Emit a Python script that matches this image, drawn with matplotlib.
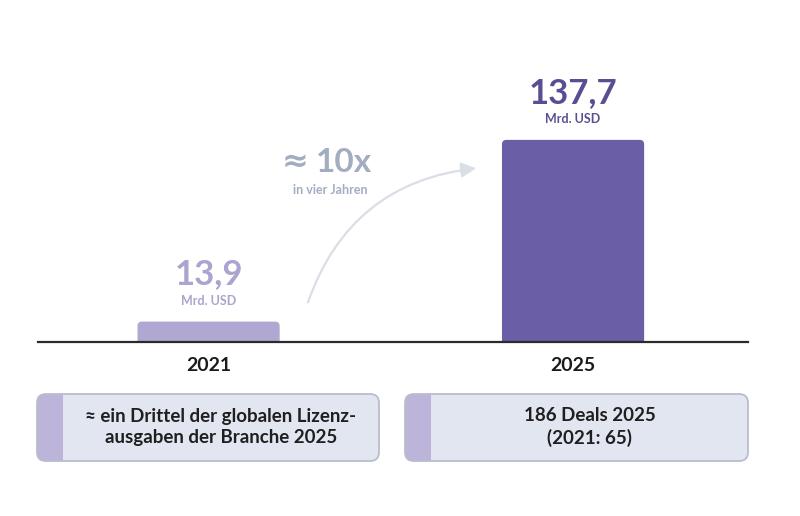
import matplotlib
matplotlib.use("Agg")
import matplotlib.pyplot as plt
from matplotlib.patches import FancyBboxPatch, FancyArrowPatch, Rectangle

plt.rcParams['font.family'] = ['Lato', 'DejaVu Sans']

# data
years = ['2021', '2025']
values = [13.9, 137.7]
value_labels = ['13,9', '137,7']
unit_label = 'Mrd. USD'
growth_sign = '≈'
growth_label = '10x'
growth_sub = 'in vier Jahren'
box_texts = ['≈ ein Drittel der globalen Lizenz-\nausgaben der Branche 2025',
             '186 Deals 2025\n(2021: 65)']

bar_colors = ['#b0a7d3', '#6a5ea6']
label_colors = ['#aca3cf', '#5a4e93']
growth_color = '#a2adc1'
arrow_color = '#d9dee7'
box_fill = '#e2e6f1'
box_edge = '#b8bdcd'
strip_color = '#bdb4d9'

W, H = 800, 516
fig = plt.figure(figsize=(W / 100, H / 100), dpi=100)
fig.patch.set_facecolor('white')


def fx(x):
    return x / W


def fy(y):
    return 1 - y / H


# main axes: baseline at y=342 px, spans x 38..748
ax = fig.add_axes([fx(38), fy(342), fx(748) - fx(38), 342 / H])
x = list(range(len(years)))
ax.set_xlim(-0.468, 1.48)
ax.set_ylim(0, 233)
ax.axis('off')

bars = ax.bar(x, values, width=0.39, color=bar_colors)
# replace by top-rounded bars
for b, c in zip(bars, bar_colors):
    b.set_visible(False)
    x0, w, h = b.get_x(), b.get_width(), b.get_height()
    rb = FancyBboxPatch((x0, -10), w, h + 10,
                        boxstyle='round,pad=0,rounding_size=0.012',
                        mutation_aspect=250, facecolor=c, edgecolor='none',
                        clip_on=True)
    ax.add_patch(rb)

ax.axhline(0, color='#2a2a2a', lw=1.6, clip_on=False)

for xi, v, lab, c in zip(x, values, value_labels, label_colors):
    ax.annotate(lab, (xi, v), xytext=(0, 34), textcoords='offset points',
                ha='center', va='center', fontsize=25, fontweight='bold',
                color=c)
    ax.annotate(unit_label, (xi, v), xytext=(0, 15), textcoords='offset points',
                ha='center', va='center', fontsize=9, fontweight='bold',
                color=c)
    ax.annotate(years[xi], (xi, 0), xytext=(0, -17), textcoords='offset points',
                ha='center', va='center', fontsize=14, fontweight='bold',
                color='#1b1b1b')

# growth annotation
fig.text(fx(295), fy(162), growth_sign, ha='center', va='center',
         fontsize=23, fontweight='bold', color=growth_color,
         family=['DejaVu Sans'])
fig.text(fx(344), fy(163), growth_label, ha='center', va='center',
         fontsize=24, fontweight='bold', color=growth_color)
fig.text(fx(330), fy(190), growth_sub, ha='center', va='center',
         fontsize=9, fontweight='bold', color=growth_color)
arr = FancyArrowPatch((fx(307), fy(305)), (fx(479), fy(168)),
                      transform=fig.transFigure,
                      connectionstyle='arc3,rad=-0.32',
                      arrowstyle='-|>,head_length=9,head_width=4.5',
                      color=arrow_color, lw=1.6, mutation_scale=1)
fig.add_artist(arr)

# info boxes
boxes = [(37, 379), (405, 748)]
for (bx0, bx1), txt in zip(boxes, box_texts):
    y0, y1 = 394, 461
    box = FancyBboxPatch((fx(bx0), fy(y1)), fx(bx1) - fx(bx0), fy(y0) - fy(y1),
                         boxstyle='round,pad=0,rounding_size=0.011',
                         mutation_aspect=W / H, transform=fig.transFigure,
                         facecolor=box_fill, edgecolor='none')
    fig.add_artist(box)
    strip = Rectangle((fx(bx0), fy(y1)), fx(26), fy(y0) - fy(y1),
                      transform=fig.transFigure, facecolor=strip_color,
                      edgecolor='none')
    fig.add_artist(strip)
    strip.set_clip_path(box)
    edge = FancyBboxPatch((fx(bx0), fy(y1)), fx(bx1) - fx(bx0), fy(y0) - fy(y1),
                          boxstyle='round,pad=0,rounding_size=0.011',
                          mutation_aspect=W / H, transform=fig.transFigure,
                          facecolor='none', edgecolor=box_edge, lw=1.3)
    fig.add_artist(edge)
    fig.text(fx((bx0 + 26 + bx1) / 2), fy(427), txt, ha='center', va='center',
             fontsize=13.5, fontweight='bold', color='#1f1f1f',
             linespacing=1.35)

fig.savefig('out.png', dpi=100, facecolor='white')
